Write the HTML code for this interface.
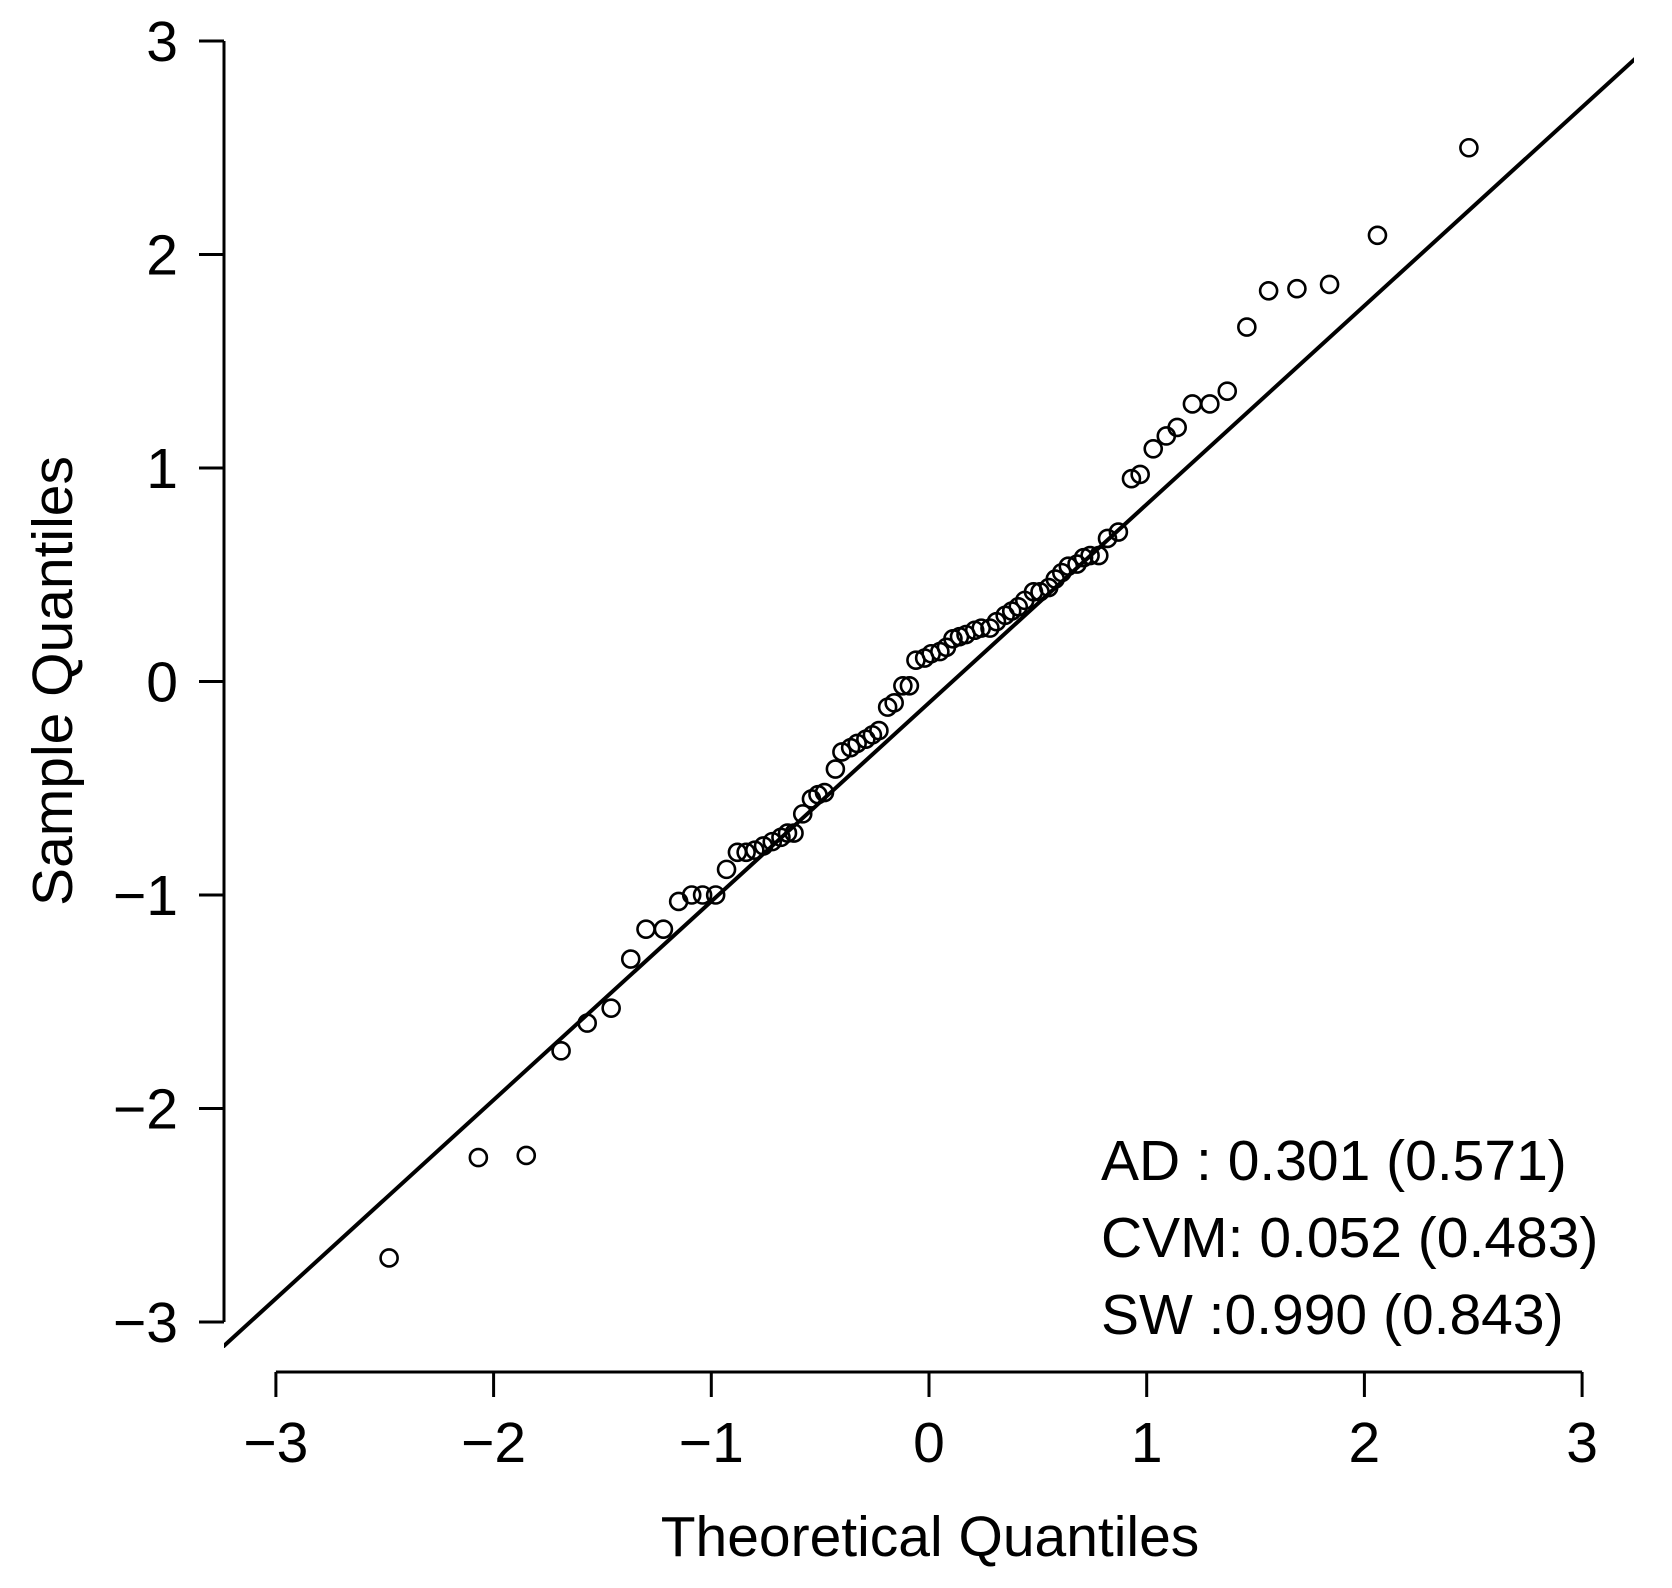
<!DOCTYPE html>
<html><head><meta charset="utf-8"><style>
html,body{margin:0;padding:0;background:#fff;}
svg{display:block;font-family:"Liberation Sans",Arial,sans-serif;}
</style></head><body>
<svg id="chart" width="1672" height="1588" viewBox="0 0 1672 1588">
<defs><clipPath id="plotclip"><rect x="224" y="0" width="1410" height="1348"/></clipPath></defs>
<g id="axes"></g>
<g id="refline" clip-path="url(#plotclip)"></g>
<g id="points"></g>
<g font-size="57" fill="#000">
<text x="1101" y="1180">AD : 0.301 (0.571)</text>
<text x="1101" y="1257">CVM: 0.052 (0.483)</text>
<text x="1101" y="1334">SW :0.990 (0.843)</text>
</g>
<text x="930" y="1556" font-size="57" text-anchor="middle">Theoretical Quantiles</text>
<text transform="translate(72,681) rotate(-90)" font-size="57" text-anchor="middle">Sample Quantiles</text>
</svg>
<script>
const xTicks = [-3,-2,-1,0,1,2,3];
const yTicks = [-3,-2,-1,0,1,2,3];
const theoretical = [-2.48,-2.07,-1.85,-1.69,-1.57,-1.46,-1.37,-1.30,-1.22,-1.15,-1.09,-1.04,-0.98,-0.93,-0.88,-0.84,-0.80,-0.76,-0.72,-0.68,-0.65,-0.62,-0.58,-0.54,-0.51,-0.48,-0.43,-0.40,-0.36,-0.33,-0.29,-0.26,-0.23,-0.19,-0.16,-0.12,-0.09,-0.06,-0.02,0.01,0.05,0.08,0.11,0.14,0.17,0.21,0.24,0.28,0.31,0.35,0.38,0.41,0.44,0.48,0.51,0.55,0.58,0.61,0.64,0.68,0.71,0.74,0.78,0.82,0.87,0.93,0.97,1.03,1.09,1.14,1.21,1.29,1.37,1.46,1.56,1.69,1.84,2.06,2.48];
const sample = [-2.70,-2.23,-2.22,-1.73,-1.60,-1.53,-1.30,-1.16,-1.16,-1.03,-1.00,-1.00,-1.00,-0.88,-0.80,-0.80,-0.79,-0.77,-0.75,-0.73,-0.71,-0.71,-0.62,-0.55,-0.53,-0.52,-0.41,-0.33,-0.31,-0.29,-0.27,-0.25,-0.23,-0.12,-0.10,-0.02,-0.02,0.10,0.11,0.13,0.14,0.16,0.20,0.21,0.22,0.24,0.25,0.25,0.28,0.31,0.33,0.35,0.38,0.42,0.42,0.44,0.48,0.51,0.54,0.55,0.58,0.59,0.59,0.67,0.70,0.95,0.97,1.09,1.15,1.19,1.30,1.30,1.36,1.66,1.83,1.84,1.86,2.09,2.50];
const lineIntercept = -0.10;
const lineSlope = 0.93;

const NS="http://www.w3.org/2000/svg";
const xs = v => 929 + v*217.7;
const ys = v => 681.5 - v*213.5;
function mk(tag, attrs, parent){const e=document.createElementNS(NS,tag);for(const k in attrs)e.setAttribute(k,attrs[k]);parent.appendChild(e);return e;}
const axes=document.getElementById('axes');
let e;
e=mk('line',{x1:xs(-3),x2:xs(3),y1:1372,y2:1372,stroke:'#000','stroke-width':3},axes);


e=mk('line',{x1:224,x2:224,y1:ys(3),y2:ys(-3),stroke:'#000','stroke-width':3},axes);


xTicks.forEach(t=>{
  const x=xs(t);
  const tk=mk('line',{x1:x,x2:x,y1:1372,y2:1397,stroke:'#000','stroke-width':3},axes);
  
  
  const lb=mk('text',{x:x,y:1462,'font-size':57,'text-anchor':'middle'},axes);
  lb.textContent=t<0?'\u2212'+Math.abs(t):String(t);
  
  
});
yTicks.forEach(t=>{
  const y=ys(t);
  const tk=mk('line',{x1:199,x2:224,y1:y,y2:y,stroke:'#000','stroke-width':3},axes);
  
  
  const lb=mk('text',{x:178,y:y+20,'font-size':57,'text-anchor':'end'},axes);
  lb.textContent=t<0?'\u2212'+Math.abs(t):String(t);
  
  
});
const rl=document.getElementById('refline');
const xa=-3.5, xb=3.5;
e=mk('line',{x1:xs(xa),y1:ys(lineIntercept+lineSlope*xa),x2:xs(xb),y2:ys(lineIntercept+lineSlope*xb),stroke:'#000','stroke-width':4},rl);


const pg=document.getElementById('points');
theoretical.forEach((t,i)=>{
  const c=mk('circle',{cx:xs(t),cy:ys(sample[i]),r:8.5,fill:'none',stroke:'#000','stroke-width':2.6},pg);
  
  
});
</script>
</body></html>
